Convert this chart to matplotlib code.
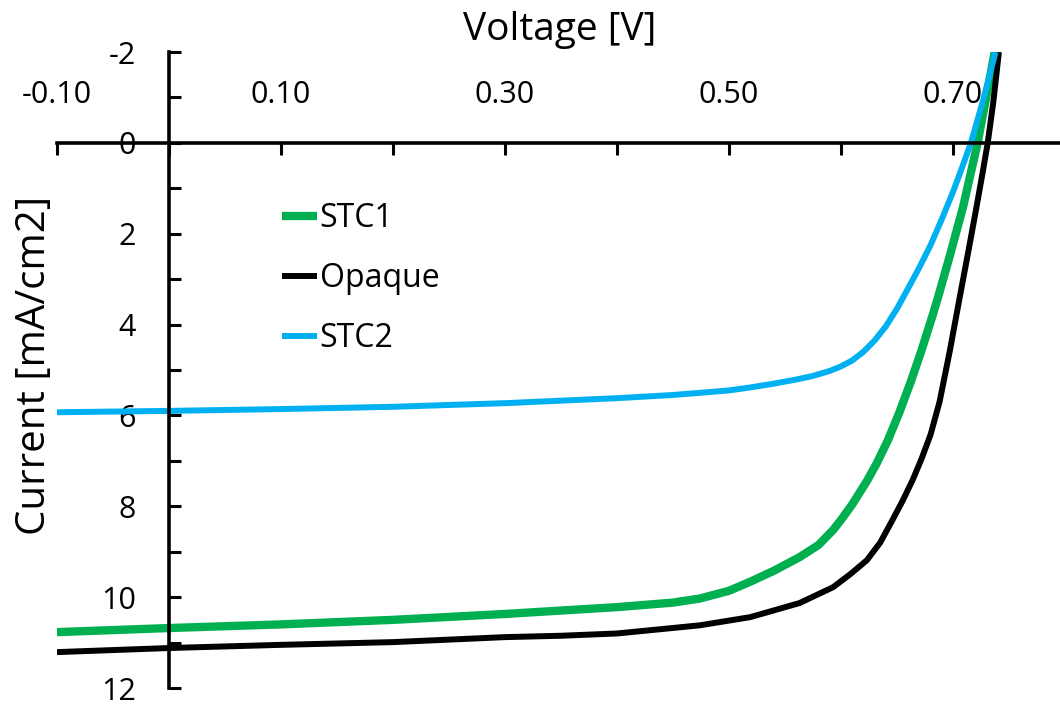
import matplotlib
matplotlib.use("Agg")
import matplotlib.pyplot as plt
from matplotlib.ticker import FixedLocator

plt.rcParams['font.family'] = ['Open Sans', 'DejaVu Sans']

#Data (voltage in V, current in mA/cm2)
voltageSTC1 = [-0.10, 0.00, 0.10, 0.20, 0.30, 0.40, 0.45, 0.474, 0.50, 0.519, 0.54, 0.563,
               0.58, 0.593, 0.60, 0.61, 0.623, 0.632, 0.642, 0.652, 0.662, 0.672, 0.682,
               0.687, 0.697, 0.709, 0.722, 0.73, 0.738]
currentSTC1 = [10.77, 10.68, 10.60, 10.50, 10.37, 10.22, 10.12, 10.03, 9.86, 9.66, 9.42, 9.12,
               8.85, 8.52, 8.30, 7.96, 7.45, 7.05, 6.54, 5.94, 5.28, 4.56, 3.78,
               3.37, 2.50, 1.41, 0.00, -1.05, -2.10]

voltageOpaque = [-0.10, 0.00, 0.10, 0.20, 0.30, 0.35, 0.40, 0.474, 0.519, 0.563, 0.593,
                 0.608, 0.623, 0.635, 0.646, 0.655, 0.664, 0.672, 0.68, 0.688, 0.697,
                 0.706, 0.714, 0.721, 0.726, 0.731, 0.736, 0.741]
currentOpaque = [11.21, 11.12, 11.05, 10.99, 10.88, 10.85, 10.80, 10.62, 10.44, 10.13, 9.78,
                 9.50, 9.19, 8.80, 8.30, 7.88, 7.42, 6.95, 6.42, 5.70, 4.60,
                 3.40, 2.35, 1.41, 0.72, 0.00, -0.90, -2.00]

voltageSTC2 = [-0.10, 0.00, 0.10, 0.20, 0.30, 0.40, 0.45, 0.50, 0.52, 0.54, 0.56, 0.575,
               0.59, 0.60, 0.61, 0.62, 0.63, 0.64, 0.65, 0.66, 0.67, 0.68, 0.69, 0.70,
               0.708, 0.716, 0.727, 0.738]
currentSTC2 = [5.93, 5.90, 5.86, 5.81, 5.73, 5.62, 5.55, 5.45, 5.38, 5.30, 5.21, 5.13,
               5.02, 4.92, 4.79, 4.60, 4.35, 4.04, 3.65, 3.20, 2.74, 2.25, 1.68, 1.08,
               0.55, 0.00, -0.95, -2.00]

seriesNames = ["STC1", "Opaque", "STC2"]
xMajor = [-0.10, 0.10, 0.30, 0.50, 0.70]
xMinor = [0.0, 0.20, 0.40, 0.60, 0.80]
yMajor = [-2, 0, 2, 4, 6, 8, 10, 12]
yMinor = [-1, 1, 3, 5, 7, 9, 11]

#Figure and axes placed to match the reference pixels
fig = plt.figure(figsize=(10.6, 7.05), dpi=100)
W, H = 1060.0, 705.0
ax = fig.add_axes([57 / W, 1 - 688 / H, (1065 - 57) / W, (688 - 52) / H])

ax.plot(voltageSTC1, currentSTC1, color="#00B050", lw=6, label=seriesNames[0], solid_capstyle="butt")
ax.plot(voltageOpaque, currentOpaque, color="black", lw=4.3, label=seriesNames[1], solid_capstyle="butt")
ax.plot(voltageSTC2, currentSTC2, color="#00B0F0", lw=4.3, label=seriesNames[2], solid_capstyle="butt")

ax.set_xlim(-0.10, 0.80)
ax.set_ylim(12, -2)

#Axes crossing at the origin
ax.spines['bottom'].set_visible(False)
ax.spines['right'].set_visible(False)
ax.spines['top'].set_position(('data', 0))
ax.spines['left'].set_position(('data', 0))
for s in ['top', 'left']:
    ax.spines[s].set_linewidth(2.6)

ax.xaxis.set_ticks_position('top')
ax.xaxis.set_major_locator(FixedLocator(xMajor))
ax.xaxis.set_minor_locator(FixedLocator(xMinor))
ax.set_xticklabels(["%.2f" % v for v in xMajor])
ax.yaxis.set_major_locator(FixedLocator(yMajor))
ax.yaxis.set_minor_locator(FixedLocator(yMinor))
ax.set_yticklabels([str(v) for v in yMajor])

ax.tick_params(axis='x', which='both', direction='in', length=8.5, width=2.2, pad=24, labelsize=22)
ax.tick_params(axis='y', which='both', direction='in', length=8.5, width=2.2, pad=24, labelsize=22)

#Axis titles
fig.text(560 / W, 1 - 30 / H, "Voltage [V]", ha="center", va="center", fontsize=28)
fig.text(35 / W, 1 - 365 / H, "Current [mA/cm2]", ha="center", va="center", fontsize=29, rotation=90)

leg = ax.legend(loc="upper left", bbox_to_anchor=(282 / W, 1 - 202 / H), bbox_transform=fig.transFigure,
                frameon=False, fontsize=23, handlelength=1.1, handletextpad=0.08, labelspacing=0.85,
                borderpad=0, borderaxespad=0)

fig.savefig("out.png", dpi=100)
